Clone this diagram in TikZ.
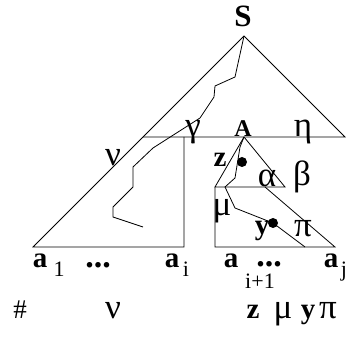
\documentclass[tikz,border=0pt]{standalone}
\usepackage{fontspec}
\setmainfont{Liberation Serif}
\usepackage{tikz}

\begin{document}
\begin{tikzpicture}[
  x=1pt, y=-1pt,
  edge/.style={line width=0.8pt},
  bold/.style={font=\fontsize{29}{29}\selectfont\bfseries, inner sep=0pt, anchor=base},
  greek/.style={font=\fontsize{35}{35}\selectfont, inner sep=0pt, anchor=base},
  sub/.style={font=\fontsize{22}{22}\selectfont, inner sep=0pt, anchor=base},
  dots/.style={font=\fontsize{34}{34}\selectfont\bfseries, inner sep=0pt, anchor=base, text depth=0pt},
  dot/.style={circle, fill, inner sep=0pt, minimum size=10pt}
]
\useasboundingbox (0,0) rectangle (348,347);

% corners of the trees
\coordinate (top) at (244,36);
\coordinate (right) at (345,137);
\coordinate (left) at (143,137);
\coordinate (Apos) at (244,137);
\coordinate (cut) at (184,137);
\coordinate (ai) at (184,247);
\coordinate (a1) at (33,247);
\coordinate (bl) at (215,187);
\coordinate (br) at (285,187);
\coordinate (bm) at (265,187);
\coordinate (cl) at (215,247);
\coordinate (cr) at (335,247);

\draw[edge] (top) -- (right) -- (left);
\draw[edge] (top) -- (a1) -- (ai) -- (cut);
\draw[edge] (Apos) -- (bl) -- (br) -- cycle;
\draw[edge] (bl) -- (cl) -- (cr) -- (bm);

% paths
\draw[edge] (top) -- (235,77) -- (215,86) -- (214,97) -- (200,118) -- (153,148)
  -- (133,167) -- (133,187) -- (113,207) -- (113,217) -- (143,227);
\node[dot] (zdot) at (242,162) {};
\node[dot] (ydot) at (273,223) {};
\draw[edge] (Apos) -- (240,147) -- (235,178) -- (225,187) -- (235,208) -- (ydot.center) -- (305,247);

% labels
\node[bold, font=\fontsize{31}{31}\selectfont\bfseries] (S) at (243,27) {S};
\node[bold, font=\fontsize{24}{24}\selectfont\bfseries] (A) at (243,137) {A};
\node[greek] (gamma) at (193,137) {γ};
\node[greek] (eta) at (303,137) {η};
\node[greek] (nu) at (113,166) {ν};
\node[bold] (z) at (220,167) {z};
\node[greek] (alpha) at (267,187) {α};
\node[greek] (beta) at (302,186) {β};
\node[greek] (mu) at (222,216) {μ};
\node[bold] (y) at (262,235) {y};
\node[greek] (pi) at (303,237) {π};

\node[bold] (x1) at (40,268) {a};
\node[sub] (s1) at (59,277) {1};
\node[dots] (d1) at (98,268) {...};
\node[bold] (xi) at (172,268) {a};
\node[sub] (si) at (186,277) {i};
\node[bold] (xk) at (231,268) {a};
\node[dots] (d2) at (269,267) {...};
\node[sub] (sk) at (260,289) {i+1};
\node[bold] (xj) at (331,268) {a};
\node[sub] (sj) at (344,277) {j};

\node[sub, font=\fontsize{27}{27}\selectfont] (hash) at (20,319) {\#};
\node[greek] (nu2) at (113,319) {ν};
\node[bold] (z2) at (253,319) {z};
\node[greek] (mu2) at (283,319) {μ};
\node[bold] (y2) at (308,319) {y};
\node[greek] (pi2) at (328,319) {π};
\end{tikzpicture}
\end{document}
